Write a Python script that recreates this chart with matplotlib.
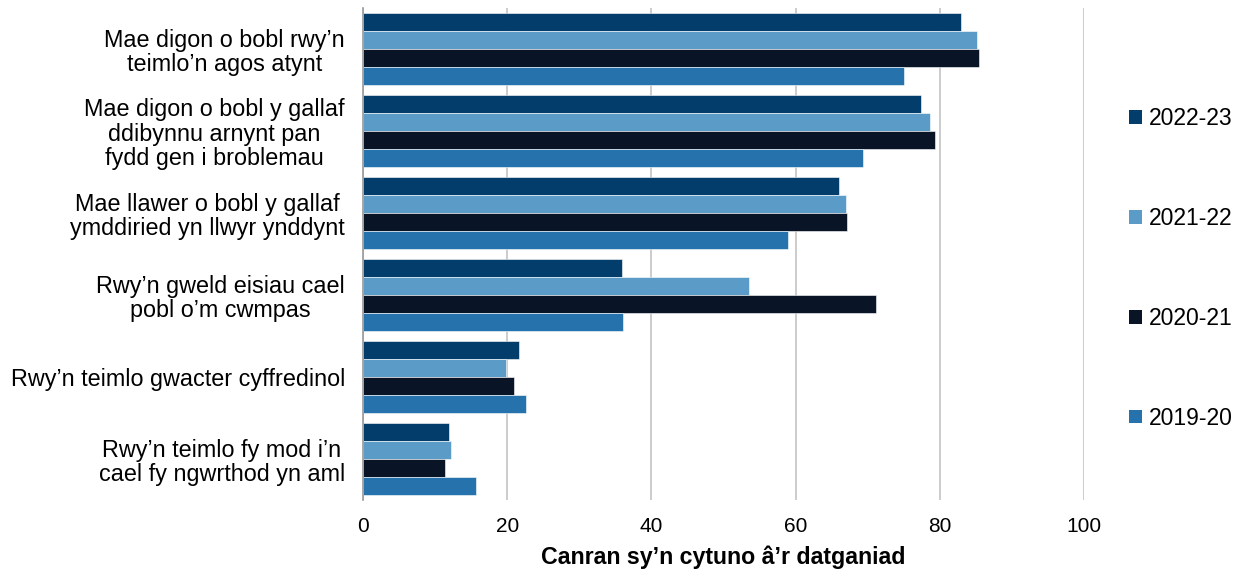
import numpy as np
import matplotlib.pyplot as plt
from matplotlib.patches import Patch

plt.rcParams['font.family'] = ['Liberation Sans', 'DejaVu Sans']

# statements, top to bottom
statements = [
    "Mae digon o bobl rwy\u2019n\nteimlo\u2019n agos atynt",
    "Mae digon o bobl y gallaf\nddibynnu arnynt pan\nfydd gen i broblemau",
    "Mae llawer o bobl y gallaf\nymddiried yn llwyr ynddynt",
    "Rwy\u2019n gweld eisiau cael\npobl o\u2019m cwmpas",
    "Rwy\u2019n teimlo gwacter cyffredinol",
    "Rwy\u2019n teimlo fy mod i\u2019n\ncael fy ngwrthod yn aml",
]

years = ["2022-23", "2021-22", "2020-21", "2019-20"]

# percentage agreeing, per year
v_2022_23 = [83.0, 77.4, 66.0, 35.9, 21.7, 11.9]
v_2021_22 = [85.1, 78.6, 67.0, 53.6, 19.9, 12.2]
v_2020_21 = [85.5, 79.3, 67.1, 71.2, 21.0, 11.4]
v_2019_20 = [75.1, 69.3, 59.0, 36.0, 22.6, 15.7]

colours = ["#023d6b", "#5b9bc8", "#091527", "#2672ad"]

series = [v_2022_23, v_2021_22, v_2020_21, v_2019_20]

fig = plt.figure(figsize=(12.4, 5.71), dpi=100)
ax = fig.add_axes([363/1240, 1 - 500/571, (1084-363)/1240, 492/571])

bar_h = 0.22
pos = np.arange(len(statements))
for i, (vals, col) in enumerate(zip(series, colours)):
    offs = (i - 1.5) * bar_h
    ax.barh(pos + offs, vals, height=bar_h, color=col, label=years[i],
            edgecolor='white', linewidth=0.4, zorder=3)

ax.set_ylim(len(statements) - 0.5, -0.5)
ax.set_xlim(0, 100)
ax.set_xticks([0, 20, 40, 60, 80, 100])
ax.set_yticks(pos)
ax.set_yticklabels(statements, fontsize=16.8, ha='right',
                   multialignment='center', linespacing=1.08)
ax.tick_params(axis='y', length=0, pad=13)
ax.tick_params(axis='x', length=0, labelsize=15, pad=12)
ax.xaxis.grid(True, color='#c8c8c8', linewidth=1.3, zorder=0)
ax.set_axisbelow(True)
for s in ['top', 'right', 'bottom']:
    ax.spines[s].set_visible(False)
ax.spines['left'].set_color('#9a9a9a')
ax.spines['left'].set_linewidth(1.2)
ax.spines['left'].set_zorder(4)

ax.set_xlabel("Canran sy\u2019n cytuno \u00e2\u2019r datganiad", fontsize=16.7,
              fontweight='bold', labelpad=7)

handles = [Patch(facecolor=c, label=y) for c, y in zip(colours, years)]
fig.legend(handles=handles, loc='center left', bbox_to_anchor=(0.9015, 0.53),
           frameon=False, fontsize=16.5, handlelength=0.55, handleheight=0.55,
           handletextpad=0.3, labelspacing=3.35, borderpad=0)

fig.savefig("out.png", dpi=100)
